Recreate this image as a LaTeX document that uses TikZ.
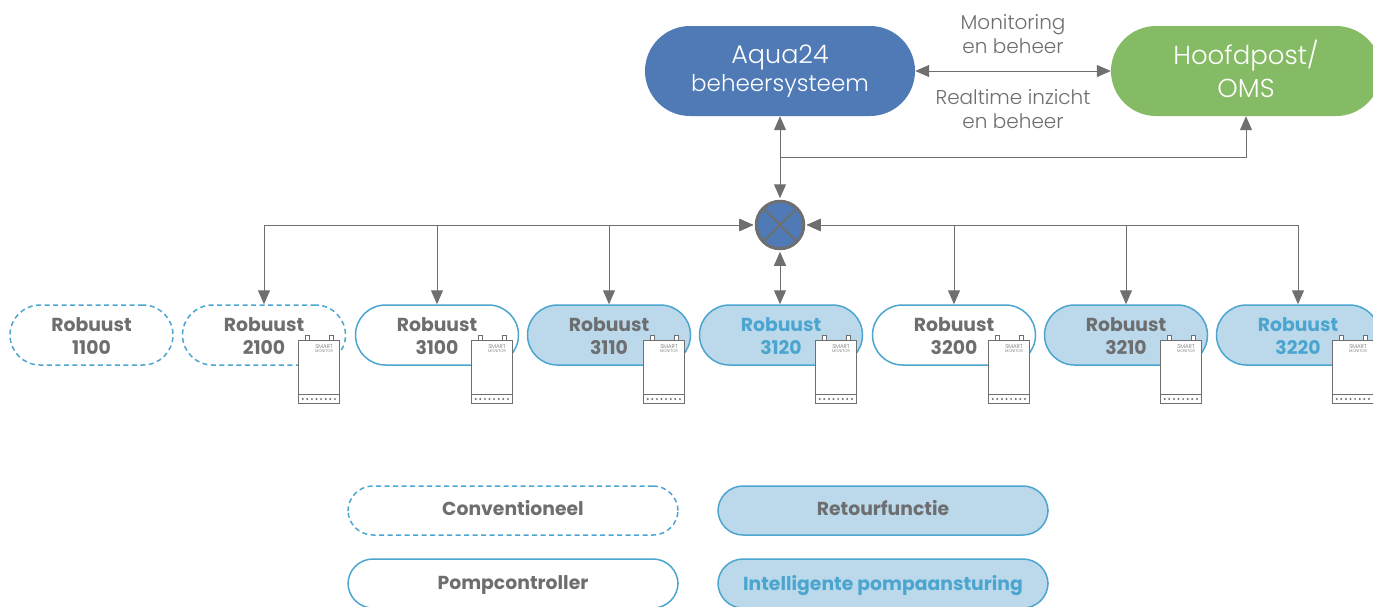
\documentclass[tikz,border=0pt]{standalone}
\usepackage{fontspec}
\setmainfont{Poppins}
\newfontfamily\lightf{Poppins Light}
\newfontfamily\boldf{Poppins}[UprightFont=* Bold]
\usetikzlibrary{arrows.meta,calc}
\definecolor{grayc}{HTML}{6D6E70}
\definecolor{linec}{HTML}{6F6F6F}
\definecolor{blued}{HTML}{4F7AB5}
\definecolor{greenc}{HTML}{85BB65}
\definecolor{lblue}{HTML}{BBD9EB}
\definecolor{sblue}{HTML}{4CA5CF}
\newcommand\rob[1]{\rule{0pt}{16pt}Robuust\\#1}
\tikzset{
  x=1pt,y=-1pt,
  conn/.style={draw=linec,line width=1pt,arrows={Triangle[length=14pt,width=12pt]-Triangle[length=14pt,width=12pt]}},
  connone/.style={draw=linec,line width=1pt,-{Triangle[length=14pt,width=12pt]}},
  big/.style={rounded corners=45pt,minimum width=270pt,minimum height=90pt,inner sep=0pt,text=white,align=center},
  pill/.style={rounded corners=30pt,minimum width=163pt,minimum height=60pt,inner sep=0pt,line width=1.5pt,draw=sblue,align=center,text=grayc,font=\boldf\fontsize{18.8}{23}\selectfont},
  conv/.style={pill,dashed,dash pattern=on 5pt off 3.5pt},
  plain/.style={pill,fill=white},
  retour/.style={pill,fill=lblue},
  intel/.style={pill,fill=lblue,text=sblue},
  leg/.style={rounded corners=25pt,minimum width=330pt,minimum height=49pt},
  legtop/.style={leg,text depth=6pt},
  legbot/.style={leg,text depth=2pt},
  lab/.style={text=grayc,align=center,font=\lightf\fontsize{20}{23.5}\selectfont},
  monbox/.style={draw=linec,fill=white,line width=1pt},
  pics/monitor/.style={code={
    \draw[monbox] (7,-5) rectangle (11,0);
    \draw[monbox] (31,-5) rectangle (35,0);
    \draw[monbox] (0,0) rectangle (41,63);
    \draw[monbox] (0,54) -- (41,54);
    \foreach \i in {0,...,7}{\fill[linec] (4.7+\i*4.6,59) circle (1.1pt);}
    \node[text=grayc,inner sep=0pt,align=center,font=\lightf\fontsize{5.5}{3.6}\selectfont] at (26,8.5) {SMART\\{\fontsize{4}{3.6}\selectfont MONITOR}};
  }}
}
\begin{document}
\begin{tikzpicture}
\useasboundingbox (0,0) rectangle (1373,606);
% top nodes
\node[big,fill=blued,font=\lightf\fontsize{23}{28}\selectfont] (aqua) at (780,71) {{\fontsize{25.5}{28}\selectfont Aqua24}\\beheersysteem};
\node[big,fill=greenc,font=\lightf\fontsize{26}{33}\selectfont] (hoofd) at (1246,71) {Hoofdpost/\\OMS\rule[-4pt]{0pt}{4pt}};
\coordinate (tee) at (780,157);
\node[circle,draw=linec,fill=blued,line width=3pt,minimum size=47.5pt,inner sep=0pt,outer sep=3pt] (junc) at (780,225) {};
\draw[linec,line width=2pt] ($(junc.center)+(-17,-17)$) -- ($(junc.center)+(17,17)$);
\draw[linec,line width=2pt] ($(junc.center)+(17,-17)$) -- ($(junc.center)+(-17,17)$);
% row
\node[conv] (r1100) at (91.5,335) {\rob{1100}};
\node[conv] (r2100) at (264,335) {\rob{2100}};
\node[plain] (r3100) at (437,335) {\rob{3100}};
\node[retour] (r3110) at (609,335) {\rob{3110}};
\node[intel] (r3120) at (781,335) {\rob{3120}};
\node[plain] (r3200) at (954,335) {\rob{3200}};
\node[retour] (r3210) at (1126,335) {\rob{3210}};
\node[intel] (r3220) at (1298,335) {\rob{3220}};
\foreach \c in {264,437,609,781,954,1126,1298}{\pic at (\c+34,340) {monitor};}
% connectors
\draw[conn] (aqua) -- (hoofd);
\draw[conn] (aqua.south) -- (junc.north);
\draw[connone] (tee) -| (hoofd.south);
\draw[conn] (junc.west) -| (r2100.north);
\draw[conn] (junc.west) -| (r3100.north);
\draw[conn] (junc.west) -| (r3110.north);
\draw[conn] (junc.south) -- (junc.south |- r3120.north);
\draw[conn] (junc.east) -| (r3200.north);
\draw[conn] (junc.east) -| (r3210.north);
\draw[conn] (junc.east) -| (r3220.north);
% labels
\node[lab] (l1) at (1013,34) {Monitoring\\en beheer};
\node[lab] (l2) at (1013,109) {Realtime inzicht\\en beheer};
% legend
\node[conv,legtop] (lc) at (513,510.5) {Conventioneel};
\node[retour,legtop] (lr) at (883,510.5) {Retourfunctie};
\node[plain,legbot] (lp) at (513,583.5) {Pompcontroller};
\node[intel,legbot] (li) at (883,583.5) {Intelligente pompaansturing};
\end{tikzpicture}
\end{document}
